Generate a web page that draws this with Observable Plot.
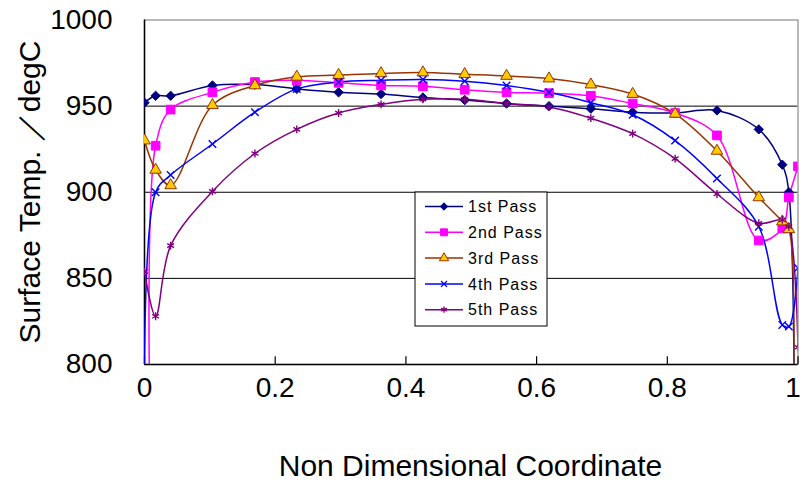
<!DOCTYPE html>
<html><head><meta charset="utf-8">
<script src="https://cdn.jsdelivr.net/npm/d3@7"></script>
<script src="https://cdn.jsdelivr.net/npm/@observablehq/plot@0.6"></script>
<style>
html,body{margin:0;padding:0;background:#fff;}
#chart svg{display:block;}
</style></head><body><div id="chart"></div>
<script>
// ---- data ----
const xTicks = [0, 0.2, 0.4, 0.6, 0.8, 1];
const yTicks = [800, 850, 900, 950, 1000];
const gridValues = [850, 900, 950];
const seriesNames = ["1st Pass", "2nd Pass", "3rd Pass", "4th Pass", "5th Pass"];

const pass1X = [0, 0.017, 0.04, 0.104, 0.169, 0.233, 0.297, 0.362, 0.426, 0.490, 0.554, 0.619, 0.683, 0.747, 0.812, 0.876, 0.940, 0.976, 0.986, 0.994];
const pass1Y = [952, 956, 956, 962, 962.5, 960, 958, 957, 955, 953.5, 951.5, 950, 948.5, 946.5, 946, 947.5, 936.5, 916, 900, 790];

const pass2X = [0.008, 0.017, 0.04, 0.104, 0.169, 0.233, 0.297, 0.362, 0.426, 0.490, 0.554, 0.619, 0.683, 0.747, 0.812, 0.876, 0.940, 0.976, 0.986, 1.0];
const pass2Y = [780, 927, 948, 958, 964, 965, 963.5, 962, 961.5, 959.5, 958, 957.5, 956, 951.5, 946, 933, 872, 879, 897, 915];

const pass3X = [0, 0.017, 0.04, 0.104, 0.169, 0.233, 0.297, 0.362, 0.426, 0.490, 0.554, 0.619, 0.683, 0.747, 0.812, 0.876, 0.940, 0.976, 0.986, 0.993];
const pass3Y = [930, 913, 904, 950.5, 962, 967, 968, 969, 969.5, 968.5, 967.5, 966, 962.5, 957, 945.5, 924, 897, 883, 878.5, 780];

const pass4X = [0, 0.017, 0.04, 0.104, 0.169, 0.233, 0.297, 0.362, 0.426, 0.490, 0.554, 0.619, 0.683, 0.747, 0.812, 0.876, 0.940, 0.976, 0.986, 1.0];
const pass4Y = [740, 900, 910, 928, 946.5, 960, 964, 965, 965.5, 964.5, 962, 958, 952, 945, 930, 908, 880, 823, 822, 856];

const pass5X = [0, 0.017, 0.04, 0.104, 0.169, 0.233, 0.297, 0.362, 0.426, 0.490, 0.554, 0.619, 0.683, 0.747, 0.812, 0.876, 0.940, 0.976, 0.986, 1.0];
const pass5Y = [854, 828, 869, 900.5, 922.5, 936.5, 946, 951, 954, 954, 951.5, 949.5, 943, 934, 919.5, 899, 882, 884, 880, 810];

// ---- styles ----
const seriesColors = ["#000080", "#FF00FF", "#993300", "#0000FF", "#800080"];
const seriesSymbols = ["diamond2", "square", "triangle", "times", "asterisk"];
const markerFills = ["#000080", "#FF00FF", "#FFCC00", "none", "none"];
const markerR = [4.2, 4.9, 4.3, 3.5, 3.7];

const xs = [pass1X, pass2X, pass3X, pass4X, pass5X];
const ys = [pass1Y, pass2Y, pass3Y, pass4Y, pass5Y];
const series = seriesNames.map((name, i) => xs[i].map((x, j) => ({x, y: ys[i][j], name})));

const marks = [
  Plot.ruleY(gridValues, {stroke: "#000", strokeWidth: 1}),
  Plot.frame({stroke: "#8a8a8a", strokeWidth: 1.2}),
  Plot.ruleX([0], {stroke: "#000", strokeWidth: 1.5}),
  Plot.ruleY([800], {stroke: "#000", strokeWidth: 1.5}),
  Plot.ruleX(xTicks, {y1: 800, y2: 804.5, stroke: "#000", strokeWidth: 1.2})
];
series.forEach((data, i) => {
  marks.push(Plot.line(data, {x: "x", y: "y", stroke: seriesColors[i], strokeWidth: 1.5, curve: "catmull-rom", clip: true}));
});
series.forEach((data, i) => {
  const filled = markerFills[i] !== "none";
  marks.push(Plot.dot(data, {
    x: "x", y: "y", symbol: () => seriesSymbols[i], r: markerR[i],
    fill: markerFills[i],
    stroke: i === 2 ? "#993300" : seriesColors[i],
    strokeWidth: filled ? 1 : 1.4, clip: true
  }));
});

const chart = Plot.plot({
  width: 803, height: 483,
  marginLeft: 144, marginRight: 5.5, marginTop: 19.5, marginBottom: 119,
  style: {fontFamily: "'Liberation Sans', Arial, sans-serif", fontSize: "28px", background: "#fff", color: "#000"},
  x: {domain: [0, 1], ticks: xTicks, tickSize: 0, tickPadding: 13, tickFormat: d => String(d), label: null},
  y: {domain: [800, 1000], ticks: yTicks, tickSize: 0, tickPadding: 32, tickFormat: d => String(d), label: null},
  marks
});
document.getElementById("chart").appendChild(chart);

// ---- axis titles & legend ----
const svg = d3.select(chart);
// keep the last x tick label inside the picture
svg.selectAll("text").filter(function () { return this.textContent === "1"; }).attr("dx", -5);

svg.append("text").attr("x", 470.5).attr("y", 476)
  .attr("text-anchor", "middle").attr("font-size", 30).attr("fill", "#000")
  .text("Non Dimensional Coordinate");
svg.append("text").attr("transform", "translate(40,192) rotate(-90)")
  .attr("text-anchor", "middle").attr("font-size", 30).attr("fill", "#000")
  .text("Surface Temp. ／degC");

const lg = svg.append("g");
lg.append("rect").attr("x", 415).attr("y", 192).attr("width", 132).attr("height", 134)
  .attr("fill", "#fff").attr("stroke", "#000").attr("stroke-width", 1);
const d3Sym = {diamond2: d3.symbolDiamond2, square: d3.symbolSquare, triangle: d3.symbolTriangle, times: d3.symbolTimes, asterisk: d3.symbolAsterisk};
seriesNames.forEach((name, i) => {
  const cy = 206.5 + i * 25.8;
  lg.append("line").attr("x1", 425).attr("x2", 463).attr("y1", cy).attr("y2", cy)
    .attr("stroke", seriesColors[i]).attr("stroke-width", 1.5);
  const r = markerR[i] * 0.8;
  lg.append("path").attr("transform", `translate(444,${cy})`)
    .attr("d", d3.symbol(d3Sym[seriesSymbols[i]], r * r * Math.PI)())
    .attr("fill", markerFills[i])
    .attr("stroke", i === 2 ? "#993300" : seriesColors[i])
    .attr("stroke-width", markerFills[i] !== "none" ? 1 : 1.3);
  lg.append("text").attr("x", 468).attr("y", cy).attr("dy", "0.36em")
    .attr("text-anchor", "start")
    .attr("font-size", 16).attr("letter-spacing", 1).attr("fill", "#000").text(name);
});
</script>
</body></html>
